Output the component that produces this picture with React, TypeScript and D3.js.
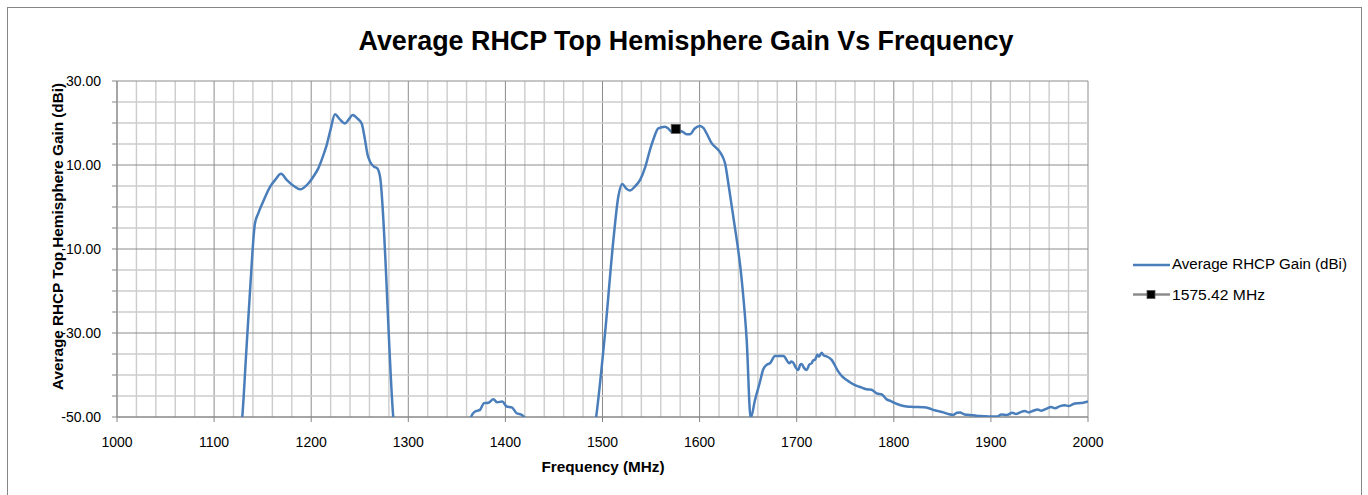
import React from "react";
import * as d3 from "d3";

const freqs = [
  1000, 1120, 1129, 1133, 1137, 1142, 1145.5, 1150, 1157.6, 1163, 1168.9, 1175, 1182, 1188.5, 1197, 1203, 1207.3, 1212, 1216, 1220,
  1224.5, 1229, 1234.8, 1238.5, 1242.7, 1248, 1252, 1255.4, 1258, 1260.6, 1264.7, 1268.1, 1270.9, 1284.6, 1290, 1360,
  1364.6, 1368.7, 1373.8, 1378, 1382.4, 1387.6, 1391.7, 1396.8, 1401.3, 1406.5, 1411.6, 1416.8, 1420.2, 1425, 1488,
  1493.3, 1502.6, 1511.2, 1516.3, 1520.4, 1524, 1528.3, 1533, 1538.6, 1544, 1548.9, 1553, 1557.5, 1564.4, 1568, 1571.3,
  1575.42, 1579, 1583.2, 1587, 1590.1, 1595, 1600.4, 1604, 1607.3, 1612.4, 1619.3, 1623, 1626.2, 1630, 1634.7, 1643.4,
  1648.5, 1652.6, 1657, 1662.2, 1665.3, 1669, 1672.5, 1677.7, 1686.3, 1692.4, 1694.5, 1696.5, 1699, 1701.7, 1703.5,
  1705.1, 1707.5, 1710.3, 1713, 1715.4, 1717, 1718.8, 1720, 1721.2, 1723, 1725.7, 1728, 1730.2, 1736, 1742.9, 1747,
  1751.5, 1756, 1761.8, 1767, 1772.1, 1777, 1782.4, 1788, 1792.7, 1797, 1801.2, 1807, 1813.2, 1820, 1830.4, 1836,
  1840.7, 1846, 1851, 1856, 1861.3, 1865, 1868.2, 1873, 1878.5, 1885, 1892.2, 1899, 1906, 1911, 1916.3, 1922, 1926,
  1930, 1935, 1939, 1943.7, 1948, 1952, 1957.5, 1962, 1966, 1971.2, 1976, 1980, 1984.9, 1990, 1995, 2000,
];
const gains = [
  -62, -62, -50, -35, -20, -4, -1.5, 1, 4.8, 6.5, 7.9, 6.4, 5, 4.2, 5.6, 7.5, 9.2, 12, 14.8, 18.5,
  22.1, 21, 19.9, 20.8, 21.9, 21, 19.9, 16, 12.5, 10.8, 9.6, 9.2, 7.2, -50.3, -62, -62,
  -50, -48.7, -48.3, -46.7, -46.6, -45.8, -46.5, -46.3, -47.5, -47.7, -49.1, -49.5, -50.3, -58, -58,
  -50.3, -30.1, -7.9, 2.5, 5.5, 4.5, 3.9, 4.8, 6.4, 9.5, 13.6, 16.5, 18.7, 19.1, 18.6, 17.9,
  18.4, 18.2, 17.8, 17.3, 17.3, 18.7, 19.3, 18.8, 17.5, 15.2, 13.6, 12.3, 10.4, 5, -2.3, -17.4,
  -31.7, -50.3, -46, -41.6, -38.8, -37.6, -37.2, -35.5, -35.5, -37.2, -36.8, -37.1, -38.2, -38.8, -37.6,
  -37.4, -38.3, -38.8, -37.5, -37.2, -36.5, -36.4, -35.8, -35.2, -35.6, -34.7, -35.4, -35.5, -36.4, -39.2, -40.4,
  -41.2, -41.9, -42.6, -43.0, -43.4, -43.5, -44.4, -44.7, -45.8, -46.2, -46.7, -47.2, -47.5, -47.6, -47.7, -47.9,
  -48.3, -48.6, -48.9, -49.3, -49.5, -49.0, -48.9, -49.4, -49.5, -49.7, -49.8, -49.9, -49.9, -49.4, -49.5, -49.0, -49.3,
  -48.9, -48.6, -48.9, -48.5, -48.2, -48.5, -48.0, -47.6, -47.9, -47.4, -47.2, -47.4, -46.9, -46.7, -46.6, -46.3,
];

const markerFreq = [1575.42];
const markerGain = [18.6];

const xTicks = [1000, 1100, 1200, 1300, 1400, 1500, 1600, 1700, 1800, 1900, 2000];
const yTicks = [-50, -30, -10, 10, 30];

const title = "Average RHCP Top Hemisphere Gain Vs Frequency";
const xTitle = "Frequency (MHz)";
const yTitle = "Average RHCP Top Hemisphere Gain (dBi)";
const seriesName = "Average RHCP Gain (dBi)";
const markerName = "1575.42 MHz";

const FONT = "'Liberation Sans', Arial, sans-serif";
const LINE = "#4a7ebb";

export default function App() {
  const left = 117, right = 1088, top = 81, bottom = 417;
  const x = d3.scaleLinear().domain([1000, 2000]).range([left, right]);
  const y = d3.scaleLinear().domain([-50, 30]).range([bottom, top]);

  const pts = freqs.map((f, i) => [f, gains[i]] as [number, number]);
  const line = d3
    .line<[number, number]>()
    .x((d) => x(d[0]))
    .y((d) => y(d[1]))
    .curve(d3.curveMonotoneX);

  const minorX = d3.range(1000, 2001, 20);
  const minorY = d3.range(-50, 30.1, 5);

  return (
    <svg width={1368} height={495} style={{ position: "absolute", left: 0, top: 0, background: "#fff" }} fontFamily={FONT}>
      <rect x={7.5} y={7.5} width={1354} height={500} fill="#fff" stroke="#868686" strokeWidth={1} />
      <text x={686} y={50} textAnchor="middle" fontWeight="bold" fontSize={27} textLength={655} lengthAdjust="spacingAndGlyphs" fill="#000">
        {title}
      </text>
      <defs>
        <clipPath id="plotclip">
          <rect x={left} y={top - 2} width={right - left} height={bottom - top + 2} />
        </clipPath>
      </defs>
      {minorX.map((f) => (
        <line key={"vx" + f} x1={x(f)} x2={x(f)} y1={top} y2={bottom} stroke={f % 100 === 0 ? "#8c8c8c" : "#cccccc"} strokeWidth={f % 100 === 0 ? 1 : 1.4} />
      ))}
      {minorY.map((g) => (
        <line key={"hy" + g} x1={left} x2={right} y1={y(g)} y2={y(g)} stroke={(g + 50) % 20 === 0 ? "#8c8c8c" : "#cccccc"} strokeWidth={(g + 50) % 20 === 0 ? 1 : 1.4} />
      ))}
      <line x1={left} x2={left} y1={top} y2={bottom} stroke="#868686" strokeWidth={1} />
      <line x1={left} x2={right} y1={bottom} y2={bottom} stroke="#868686" strokeWidth={1} />
      {minorY.map((g) => (
        <line key={"ty" + g} x1={left - 5} x2={left} y1={y(g)} y2={y(g)} stroke="#868686" strokeWidth={1} />
      ))}
      {xTicks.map((f) => (
        <line key={"tx" + f} x1={x(f)} x2={x(f)} y1={bottom} y2={bottom + 5} stroke="#868686" strokeWidth={1} />
      ))}
      {xTicks.map((f) => (
        <text key={"lx" + f} x={x(f)} y={446.5} textAnchor="middle" fontSize={14} fill="#000">
          {String(f)}
        </text>
      ))}
      {yTicks.map((g) => (
        <text key={"ly" + g} x={101} y={y(g)} dy="0.36em" textAnchor="end" fontSize={14} fill="#000">
          {g.toFixed(2)}
        </text>
      ))}
      <g clipPath="url(#plotclip)">
        <path d={line(pts) || ""} fill="none" stroke={LINE} strokeWidth={2.5} strokeLinejoin="round" />
      </g>
      {markerFreq.map((f, i) => (
        <rect key={"m" + i} x={x(f) - 4.5} y={y(markerGain[i]) - 4.5} width={9} height={9} fill="#000" stroke="#555" strokeWidth={0.8} />
      ))}
      <rect x={46} y={110} width={15.5} height={280} fill="#fff" />
      <text transform={`translate(63,236.5) rotate(-90)`} textAnchor="middle" fontWeight="bold" fontSize={14} textLength={307} lengthAdjust="spacingAndGlyphs" fill="#000">
        {yTitle}
      </text>
      <text x={603} y={471.5} textAnchor="middle" fontWeight="bold" fontSize={14} textLength={123} lengthAdjust="spacingAndGlyphs" fill="#000">
        {xTitle}
      </text>
      <line x1={1133} x2={1170} y1={265} y2={265} stroke={LINE} strokeWidth={2.5} />
      <text x={1172} y={268.5} fontSize={14} textLength={175} lengthAdjust="spacingAndGlyphs" fill="#000">
        {seriesName}
      </text>
      <line x1={1133} x2={1170} y1={294.5} y2={294.5} stroke="#8c8c8c" strokeWidth={2.5} />
      <rect x={1147} y={290.5} width={8} height={8} fill="#000" stroke="#555" strokeWidth={0.8} />
      <text x={1172} y={300} fontSize={14} textLength={93} lengthAdjust="spacingAndGlyphs" fill="#000">
        {markerName}
      </text>
    </svg>
  );
}
